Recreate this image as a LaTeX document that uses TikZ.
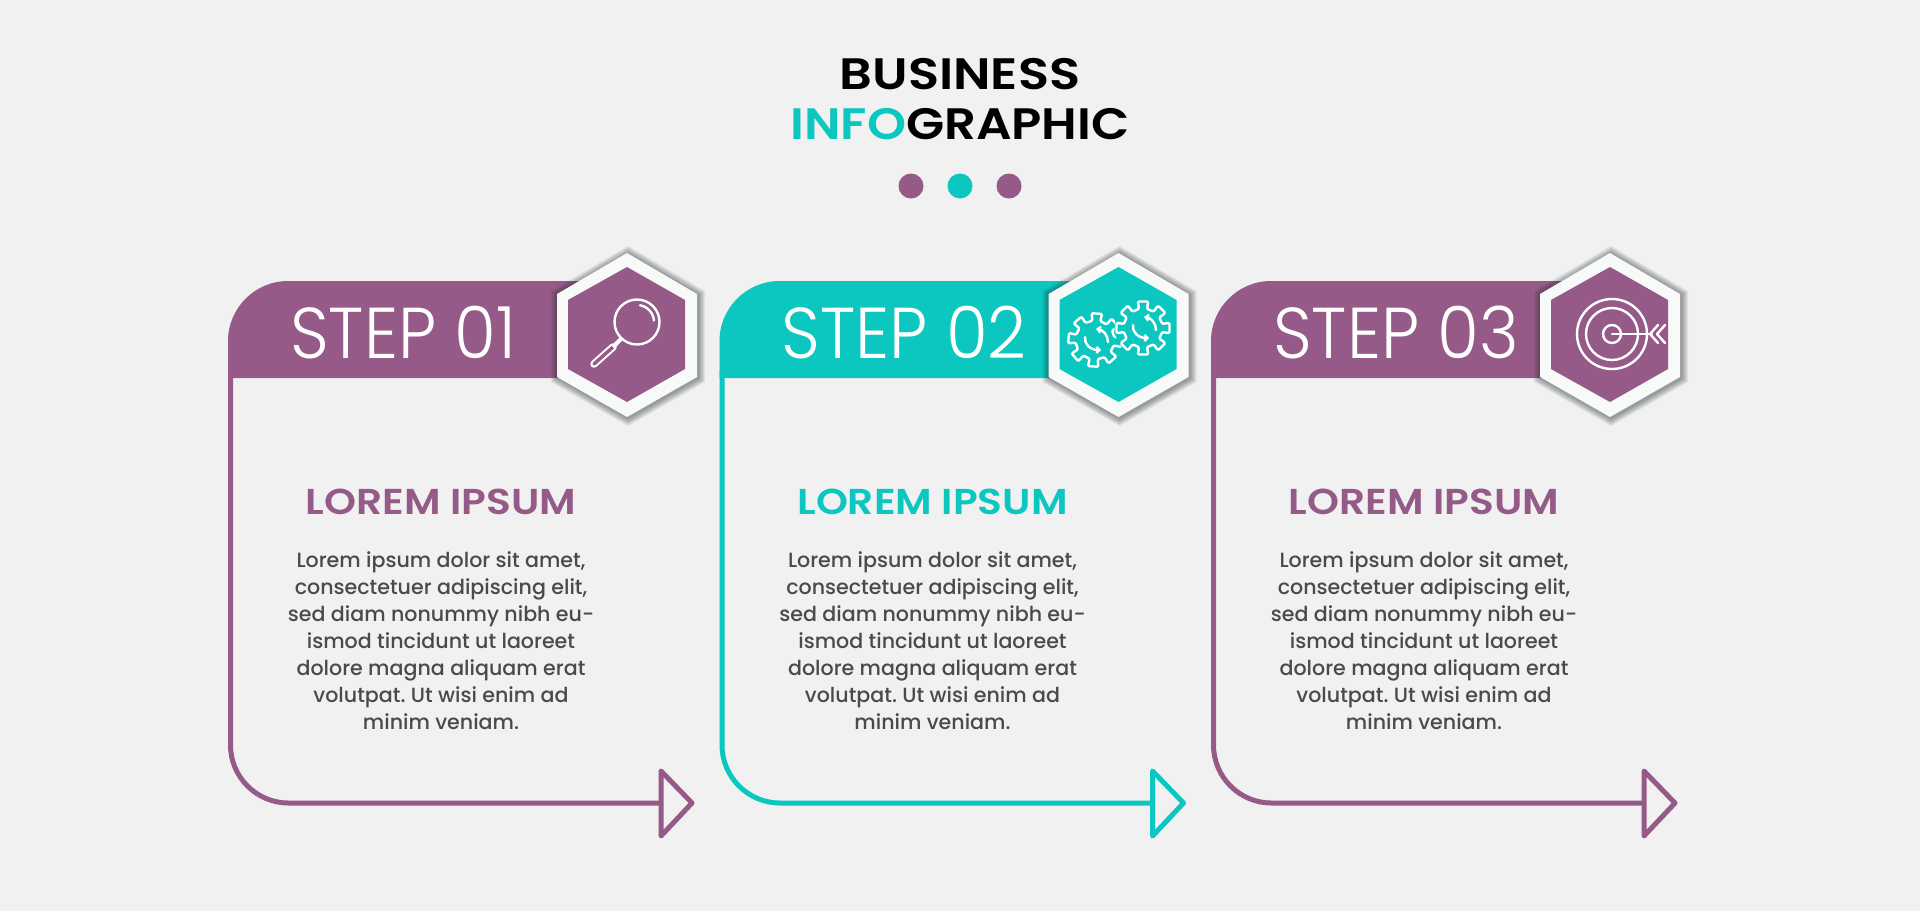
\documentclass[tikz,border=0pt]{standalone}
\usepackage{fontspec}
\setmainfont{Poppins}
\newfontfamily\popbold[FakeStretch=1.13]{Poppins SemiBold}
\newfontfamily\popboldb[FakeStretch=1.16]{Poppins SemiBold}
\newfontfamily\popmed{Poppins Medium}
\newfontfamily\popstep[FakeStretch=0.94]{Poppins Light}
\usetikzlibrary{arrows.meta}
\definecolor{bgc}{HTML}{F1F1F1}
\definecolor{plum}{HTML}{955A88}
\definecolor{teal}{HTML}{0CC6C0}
\definecolor{hexw}{HTML}{F8F9F9}
\definecolor{bodyc}{HTML}{4A4A4A}
\definecolor{shadec}{HTML}{1E2A28}
\tikzset{
  outlinepath/.style={line width=5pt,line join=round},
  iconline/.style={draw=white,line width=2.4pt,line cap=round,line join=round},
  steplabel/.style={text=white,font=\popstep\fontsize{72}{72}\selectfont,anchor=base west,inner sep=0pt},
  headlabel/.style={font=\popbold\fontsize{36}{36}\selectfont,anchor=base,inner sep=0pt},
  bodylabel/.style={text=bodyc,font=\popmed\frenchspacing\fontsize{20.6}{27}\selectfont,align=center,inner sep=0pt},
  titlelabel/.style={font=\popbold\fontsize{44}{44}\selectfont,anchor=base,inner sep=0pt}
}
\newcommand{\hexouter}{(627,253) -- (697,294) -- (697,377) -- (627,417) -- (557,377) -- (557,294) -- cycle}
\newcommand{\hexinner}{(627,267) -- (685,300) -- (685,369) -- (627,402) -- (568,369) -- (568,300) -- cycle}
\newcommand{\gearshape}[3]{%
  \begin{scope}[shift={(#1,#2)}]
    \fill[teal] (0,0) circle (28.5);
    \draw[iconline,fill=teal,rounded corners=1.2pt]
      (#3-12:19.5)
      \foreach \t in {0,45,...,315}{ -- (#3+\t-12:19.5) -- (#3+\t-11:27) -- (#3+\t+11:27) -- (#3+\t+12:19.5) } -- cycle;
    \draw[iconline,{Straight Barb[length=3pt,width=6pt]}-] (1,-11) .. controls (8,-10) and (13,-5) .. (13,2);
    \draw[iconline,-{Straight Barb[length=3pt,width=6pt]}] (-10,-3) .. controls (-11,4) and (-5,10) .. (6,10);
  \end{scope}}
\newcommand{\iconA}{%
  \draw[iconline] (637,322) circle (22.5);
  \draw[iconline] plot[domain=-80:-5,samples=12] ({637+17*cos(\x)},{322+17*sin(\x)});
  \draw[white,line width=7.5pt,line cap=round] (594,364) -- (613,347);
  \draw[plum,line width=3.4pt,line cap=round] (594,364) -- (613,347);
  \draw[white,line width=4pt] (613,347) -- (621,339);}
\newcommand{\iconB}{%
  \begin{scope}[xshift=-491.5pt]
    \gearshape{1095}{340}{4}
    \gearshape{1143}{328}{0}
  \end{scope}}
\newcommand{\iconC}{%
  \begin{scope}[xshift=-983pt]
    \draw[iconline] (1612,334) circle (35);
    \draw[iconline] (1612,334) circle (26);
    \draw[iconline] (1612,334) circle (9);
    \draw[iconline] (1612,334) -- (1652,334);
    \draw[iconline] (1658,325) -- (1650,334) -- (1658,343);
    \draw[iconline] (1665,325) -- (1657,334) -- (1665,343);
  \end{scope}}
\begin{document}
\begin{tikzpicture}[x=1pt,y=-1pt]
\useasboundingbox (0,0) rectangle (1920,911);
\fill[bgc] (0,0) rectangle (1920,911);
% title
\node[titlelabel,font=\popboldb\fontsize{44}{44}\selectfont] (business) at (960,89) {BUSINESS};
\node[titlelabel] (info) at (960,139) {\textcolor{teal}{INFO}GRAPHIC};
\fill[plum] (911,186) circle (12.5);
\fill[teal] (960,186) circle (12.5);
\fill[plum] (1009,186) circle (12.5);
% cards
\foreach \dx/\col/\stp/\ic in {0/plum/01/\iconA, 491.5/teal/02/\iconB, 983/plum/03/\iconC}{
  \begin{scope}[xshift=\dx pt]
    % header band
    \fill[\col] (228,378) -- (228,341) .. controls (228,308) and (255,281) .. (288,281) -- (600,281) -- (600,378) -- cycle;
    % outline and arrow
    \draw[\col,outlinepath,rounded corners=58pt] (230.5,370) -- (230.5,803) -- (662,803);
    \draw[\col,outlinepath] (661,771) -- (692,803) -- (661,836) -- cycle;
    % hexagon shadow
    \foreach \w in {2,4,...,14}{
      \draw[shadec,opacity=0.075,line width=\w pt,miter limit=10,shift={(1,1)}] \hexouter;
    }
    \fill[hexw] \hexouter;
    \fill[\col] \hexinner;
    \ic
    \node[steplabel] (step\stp) at (290,358) {STEP \stp};
    \node[headlabel,text=\col] (head\stp) at (441,514) {LOREM IPSUM};
    \node[bodylabel] (body\stp) at (441,641) {Lorem ipsum dolor sit amet,\\consectetuer adipiscing elit,\\sed diam nonummy nibh eu-\\ismod tincidunt ut laoreet\\dolore magna aliquam erat\\volutpat. Ut wisi enim ad\\minim veniam.};
  \end{scope}
}
\end{tikzpicture}
\end{document}
